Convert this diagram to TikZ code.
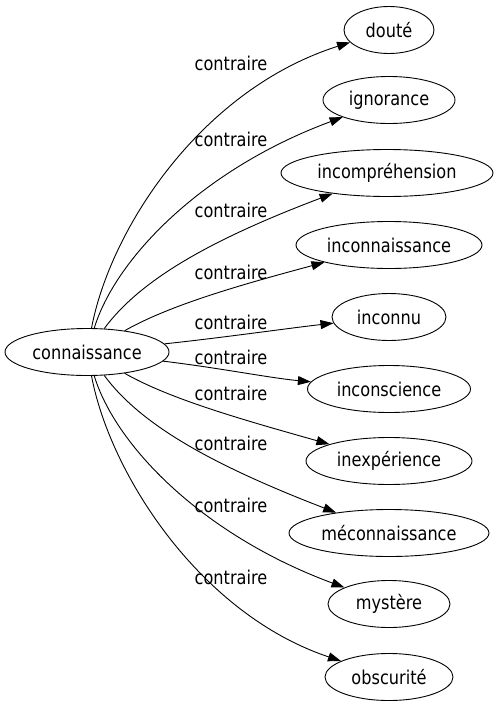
\documentclass[tikz,border=0pt]{standalone}
\usepackage{fontspec}
\setmainfont{DejaVu Sans}[FakeStretch=0.85]
\usetikzlibrary{shapes.geometric,arrows.meta}
\begin{document}
\begin{tikzpicture}[x=1pt,y=-1pt,
  term/.style={ellipse,draw,line width=0.9pt,inner sep=0pt,minimum height=47pt,font=\fontsize{19}{22}\selectfont},
  lbl/.style={font=\fontsize{19}{22}\selectfont,inner sep=0pt},
  rel/.style={line width=0.9pt,-{Triangle[length=13pt,width=9pt]}}]
\useasboundingbox (0,0) rectangle (499,707);
\node[term,minimum width=164pt] (c) at (87,352) {connaissance};
\node[term,minimum width=90pt]  (n1) at (389,30) {douté};
\node[term,minimum width=132pt] (n2) at (389,100) {ignorance};
\node[term,minimum width=212pt] (n3) at (387,173) {incompréhension};
\node[term,minimum width=186pt] (n4) at (389,245) {inconnaissance};
\node[term,minimum width=114pt] (n5) at (389,317) {inconnu};
\node[term,minimum width=163pt] (n6) at (389,389) {inconscience};
\node[term,minimum width=166pt] (n7) at (389,461) {inexpérience};
\node[term,minimum width=200pt] (n8) at (389,533) {méconnaissance};
\node[term,minimum width=122pt] (n9) at (389,604) {mystère};
\node[term,minimum width=128pt] (n10) at (389,677) {obscurité};
\node[lbl] (l1) at (231,63) {contraire};
\node[lbl] (l2) at (231,139) {contraire};
\node[lbl] (l3) at (231,210) {contraire};
\node[lbl] (l4) at (231,272) {contraire};
\node[lbl] (l5) at (231,322) {contraire};
\node[lbl] (l6) at (231,357) {contraire};
\node[lbl] (l7) at (231,393) {contraire};
\node[lbl] (l8) at (231,443) {contraire};
\node[lbl] (l9) at (231,505) {contraire};
\node[lbl] (l10) at (231,577) {contraire};
\draw[rel] (c) .. controls (110,230) and (200,90) .. (n1);
\draw[rel] (c) .. controls (115,260) and (200,170) .. (n2);
\draw[rel] (c) .. controls (140,280) and (210,240) .. (n3);
\draw[rel] (c) .. controls (170,305) and (240,285) .. (n4);
\draw[rel] (c) .. controls (220,338) and (290,328) .. (n5);
\draw[rel] (c) .. controls (220,368) and (270,378) .. (n6);
\draw[rel] (c) .. controls (170,399) and (240,419) .. (n7);
\draw[rel] (c) .. controls (140,424) and (210,464) .. (n8);
\draw[rel] (c) .. controls (115,444) and (200,534) .. (n9);
\draw[rel] (c) .. controls (110,474) and (200,614) .. (n10);
\end{tikzpicture}
\end{document}
